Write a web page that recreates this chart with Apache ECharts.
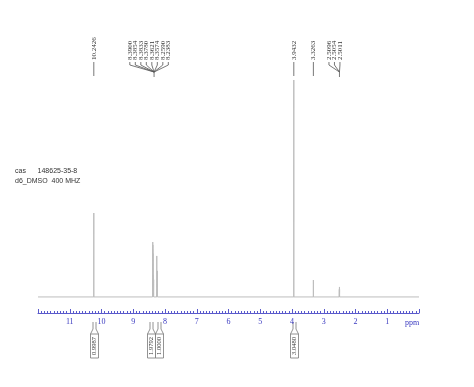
<!DOCTYPE html>
<html><head><meta charset="utf-8">
<script src="https://cdn.jsdelivr.net/npm/echarts@6/dist/echarts.min.js"></script>
<style>html,body{margin:0;padding:0;background:#fff}#c{width:474px;height:387px}</style>
</head><body><div id="c"></div>
<script>
// ---- data ----
const peakPpm    = [10.2426, 8.3900, 8.3854, 8.3833, 8.3780, 8.3621, 8.3574, 8.2590, 8.2383, 3.9432, 3.3263, 2.5096, 2.5054, 2.5011];
const peakHeight = [38.7,    22,     25.3,   24,     20,     10,     8,      18.9,   12,     100,    7.8,    3.5,    4.6,    3.5];
const labelGroups = [
  [10.2426],
  [8.3900, 8.3854, 8.3833, 8.3780, 8.3621, 8.3574, 8.2590, 8.2383],
  [3.9432],
  [3.3263],
  [2.5096, 2.5054, 2.5011]
];
const integralPpm = [10.2426, 8.45, 8.18, 3.9432];
const integralValues = ['0.9987', '1.9792', '1.0000', '3.0480'];
const tickLabels = [11, 10, 9, 8, 7, 6, 5, 4, 3, 2, 1];
const infoLines = ['cas      148625-35-8', 'd6_DMSO  400 MHZ'];
const axisUnit = 'ppm';

// ---- build spectrum ----
const spec = [[12, 0]];
peakPpm.map((p, i) => [p, peakHeight[i]]).sort((a, b) => b[0] - a[0]).forEach(([p, h]) => {
  spec.push([p + 0.0008, 0], [p, h], [p - 0.0008, 0]);
});
spec.push([0, 0]);

const chart = echarts.init(document.getElementById('c'), null, {renderer: 'canvas'});
const axisColor = '#5a5acc';
chart.setOption({
  animation: false,
  backgroundColor: '#fff',
  grid: {left: 38, right: 55, top: 80, bottom: 74},
  xAxis: {
    type: 'value', min: 0, max: 12, interval: 1, inverse: true,
    axisLine: {onZero: false, lineStyle: {color: axisColor, width: 1}},
    axisTick: {inside: true, length: 4, lineStyle: {color: axisColor}},
    minorTick: {show: true, splitNumber: 10, length: 2, lineStyle: {color: axisColor}},
    splitLine: {show: false},
    axisLabel: {
      color: '#3a3ac0', fontFamily: 'Liberation Serif', fontSize: 8, margin: 5,
      formatter: v => tickLabels.indexOf(v) >= 0 ? String(v) : ''
    }
  },
  yAxis: {type: 'value', min: -7.4, max: 100, show: false},
  series: [{
    type: 'line', data: spec, showSymbol: false, symbol: 'none',
    lineStyle: {color: '#bdbdbd', width: 1}, silent: true
  }]
});

const px = p => chart.convertToPixel({xAxisIndex: 0}, p);
const g = [];
const lineCol = '#555';
const txtStyle = {fill: '#333', font: '7px "Liberation Serif"'};

labelGroups.forEach(grp => {
  const n = grp.length;
  const mean = grp.reduce((a, b) => a + b, 0) / n;
  const conv = px(mean);
  grp.forEach((p, i) => {
    const x = n === 1 ? conv : conv - 5 + (i - (n - 1) / 2) * 5.5;
    g.push({type: 'text', x: Math.round(x) + 0.5, y: 60, rotation: Math.PI / 2,
      style: Object.assign({text: p.toFixed(4), textAlign: 'left', textVerticalAlign: 'middle'}, txtStyle)});
    const pts = n === 1
      ? [[x, 62], [x, 76]]
      : [[x, 62], [x, 65], [conv, 72]];
    g.push({type: 'polyline', shape: {points: pts}, style: {stroke: lineCol, lineWidth: 0.8, fill: null}});
  });
  if (n > 1) g.push({type: 'polyline', shape: {points: [[conv, 72], [conv, 77]]}, style: {stroke: lineCol, lineWidth: 0.8, fill: null}});
});

integralPpm.forEach((p, i) => {
  const cx = Math.round(px(p)) + 0.5;
  const top = 334, bot = 358, hw = 4;
  g.push({type: 'rect', shape: {x: cx - hw, y: top, width: hw * 2, height: bot - top},
    style: {stroke: '#777', lineWidth: 0.8, fill: '#fff'}});
  g.push({type: 'polyline', shape: {points: [[cx - hw, top], [cx - 1.5, 329], [cx - 1.5, 322]]}, style: {stroke: '#777', lineWidth: 0.8, fill: null}});
  g.push({type: 'polyline', shape: {points: [[cx + hw, top], [cx + 1.5, 329], [cx + 1.5, 322]]}, style: {stroke: '#777', lineWidth: 0.8, fill: null}});
  g.push({type: 'text', x: cx, y: (top + bot) / 2, rotation: Math.PI / 2,
    style: {text: integralValues[i], textAlign: 'center', textVerticalAlign: 'middle', fill: '#333', font: '6.5px "Liberation Serif"'}});
});

g.push({type: 'text', x: 412, y: 323, style: {text: axisUnit, textAlign: 'center', textVerticalAlign: 'middle', fill: '#3a3ac0', font: '8px "Liberation Serif"'}});
infoLines.forEach((t, i) => {
  g.push({type: 'text', x: 15, y: 171 + i * 10, style: {text: t, textAlign: 'left', textVerticalAlign: 'middle', fill: '#333', font: '7px "Liberation Sans"'}});
});

chart.setOption({graphic: g});
</script></body></html>
